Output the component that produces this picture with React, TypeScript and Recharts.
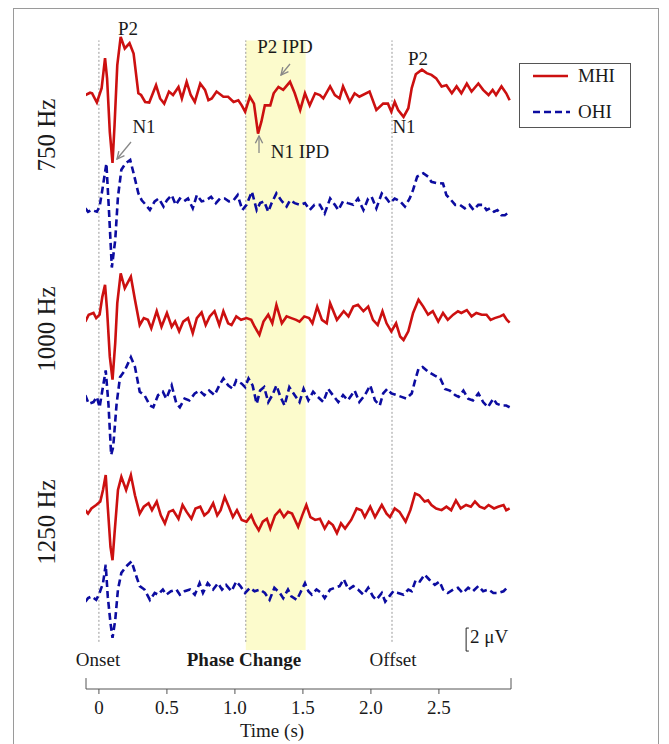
import React from 'react'
import { LineChart, Line, XAxis, YAxis, ReferenceLine, ReferenceArea } from 'recharts'

const FONT = "'Liberation Serif', 'Times New Roman', serif"

const timeTicks = [0, 0.5, 1.0, 1.5, 2.0, 2.5]
const tickLabels = ['0', '0.5', '1.0', '1.5', '2.0', '2.5']
const eventTimes = [0, 1.08, 2.155] // onset, phase change, offset
const eventLabels = ['Onset', 'Phase Change', 'Offset']
const ipdWindow = [1.08, 1.52]
const freqLabels = ['750 Hz', '1000 Hz', '1250 Hz']

// [time (s), amplitude (µV)]
const mhi750: [number, number][] = [
  [-0.1, 0], [-0.065, 0.2], [-0.05, 0.15], [-0.015, -0.65], [0.02, 0.6], [0.045, 3.2], [0.06, 1.45],
  [0.08, -3.2], [0.1, -5.9], [0.115, -2.6], [0.135, 2.6], [0.16, 5.05], [0.19, 4.05], [0.225, 4.5],
  [0.255, 3.6], [0.29, 0.15], [0.31, 0], [0.34, -0.6], [0.37, -0.65], [0.42, 0.85], [0.45, -0.3],
  [0.48, -0.75], [0.515, 0.3], [0.545, 0], [0.585, 0.7], [0.61, -0.3], [0.645, 1.15], [0.675, 0],
  [0.705, -0.6], [0.745, 1.0], [0.78, 0.45], [0.805, -0.45], [0.83, -0.3], [0.865, 0.3], [0.915, -0.15],
  [0.95, -0.15], [0.99, -0.6], [1.025, -0.45], [1.05, -0.9], [1.075, -1.45], [1.11, -0.15], [1.14, -0.75],
  [1.17, -3.35], [1.195, -2.3], [1.22, -0.9], [1.26, -0.9], [1.285, 0.15], [1.32, 0.7], [1.355, 0.45],
  [1.405, 1.15], [1.44, 0.15], [1.48, -1.3], [1.515, 0.15], [1.55, -0.9], [1.59, 0.15], [1.625, 0],
  [1.65, -0.3], [1.7, 0.75], [1.735, 0], [1.77, -0.3], [1.795, 0.75], [1.845, -0.6], [1.88, 0.15],
  [1.915, -0.15], [1.99, 0.3], [2.04, -1.3], [2.09, -0.75], [2.125, -0.75], [2.15, -1.45], [2.175, -0.6],
  [2.2, -1.3], [2.24, -1.9], [2.275, -1.15], [2.3, 0.6], [2.33, 1.8], [2.375, 2.2], [2.41, 1.9],
  [2.445, 1.75], [2.48, 1.45], [2.52, 0.75], [2.555, 0.85], [2.595, 0.15], [2.63, 0.75], [2.665, 0.15],
  [2.705, 1.0], [2.74, 0.3], [2.79, 1.0], [2.825, 0.45], [2.865, 0], [2.895, 0.45], [2.92, 0],
  [2.96, 0.75], [2.995, 0.15], [3.02, -0.45],
]

const ohi750: [number, number][] = [
  [-0.1, 0.15], [-0.08, -0.15], [-0.055, 0], [-0.015, -0.15], [0.005, 0.3], [0.025, 1.75], [0.055, 4.05],
  [0.075, -0.3], [0.095, -5.0], [0.12, -2.6], [0.14, 1.15], [0.165, 3.5], [0.195, 4.05], [0.23, 4.35],
  [0.255, 3.2], [0.29, 1.45], [0.315, 0.85], [0.345, 0.45], [0.375, 0], [0.41, 0.75], [0.44, 1.0],
  [0.475, 0.3], [0.5, 0.85], [0.535, 1.3], [0.565, 0.45], [0.595, 1.0], [0.625, 0.75], [0.655, 1.0],
  [0.69, 0.15], [0.72, 1.3], [0.755, 0.75], [0.79, 0.85], [0.825, 1.15], [0.86, 0.6], [0.89, 1.0],
  [0.925, 1.0], [0.955, 0.75], [0.99, 0.85], [1.02, 1.3], [1.055, 0], [1.085, 0.45], [1.125, 1.6],
  [1.16, 0], [1.185, 0.6], [1.215, 0.75], [1.245, -0.15], [1.27, 0.6], [1.305, 1.45], [1.34, 0.85],
  [1.38, 0.3], [1.405, 0.85], [1.44, 0.6], [1.48, 0.45], [1.515, 0.6], [1.55, 0], [1.585, 0.45],
  [1.625, 0.45], [1.66, -0.3], [1.7, 1.0], [1.735, 0.45], [1.76, 0], [1.795, 0.75], [1.83, 0.6],
  [1.87, 0.45], [1.905, 1.0], [1.945, 0], [1.98, 1.0], [2.005, 1.15], [2.04, 0.15], [2.08, 1.45],
  [2.115, 1.0], [2.14, 0.6], [2.175, 1.0], [2.215, 0.75], [2.25, 0.3], [2.285, 1.0], [2.31, 1.75],
  [2.34, 2.9], [2.385, 3.2], [2.42, 2.9], [2.445, 2.45], [2.48, 2.35], [2.53, 2.3], [2.555, 1.3],
  [2.58, 1.0], [2.62, 0.45], [2.655, 0.45], [2.69, 0.15], [2.725, 0.45], [2.755, 0], [2.79, 0.45],
  [2.825, 0.45], [2.85, 0], [2.875, 0.15], [2.905, -0.15], [2.93, 0], [2.96, -0.45], [2.985, -0.45],
  [3.02, -0.15],
]

const mhi1000: [number, number][] = [
  [-0.1, -0.15], [-0.075, 0.45], [-0.04, 0.6], [-0.02, 0.15], [0.005, 0.45], [0.025, 2.0], [0.045, 3.05],
  [0.06, 0.85], [0.08, -3.2], [0.1, -5.2], [0.12, -2.0], [0.135, 1.45], [0.16, 4.05], [0.19, 2.75],
  [0.235, 3.75], [0.265, 1.75], [0.3, -0.45], [0.33, 0.15], [0.36, 0], [0.385, -0.75], [0.425, 0.75],
  [0.46, -0.6], [0.5, 0.6], [0.535, -0.6], [0.56, -0.15], [0.59, -1.0], [0.62, -0.15], [0.655, 0.15],
  [0.69, -1.15], [0.72, 0.15], [0.755, 0.65], [0.785, -0.45], [0.815, 0.3], [0.85, 0.75], [0.885, -0.45],
  [0.915, 0.75], [0.95, -0.3], [0.975, -0.45], [1.01, 0.3], [1.045, 0], [1.085, 0.15], [1.12, 0],
  [1.145, -0.6], [1.18, -1.3], [1.21, -0.15], [1.245, 0.45], [1.275, -0.3], [1.305, 1.3], [1.345, -0.3],
  [1.38, 0.3], [1.415, 0.15], [1.45, 0], [1.475, -0.15], [1.51, 0.3], [1.545, 0.15], [1.57, -0.3],
  [1.605, 1.15], [1.64, 0], [1.675, -0.3], [1.7, 1.45], [1.75, 0], [1.8, 0.75], [1.835, 0.3],
  [1.87, 1.15], [1.905, 1.3], [1.945, 0.75], [1.98, 1.15], [2.015, 0], [2.05, -0.45], [2.085, 0.75],
  [2.115, -0.3], [2.15, -1.0], [2.185, -0.3], [2.215, -1.45], [2.24, -1.75], [2.275, -1.0], [2.31, 0.6],
  [2.35, 1.75], [2.385, 1.15], [2.42, 0.45], [2.455, 0.75], [2.495, -0.15], [2.53, 0.6], [2.565, 0],
  [2.605, 0.45], [2.64, 0.75], [2.665, 0.6], [2.705, 0.85], [2.74, 0.3], [2.775, 0.6], [2.815, 0.45],
  [2.85, 0.45], [2.88, 0], [2.91, 0.15], [2.95, 0.3], [2.975, 0.45], [3.0, 0], [3.02, -0.25],
]

const ohi1000: [number, number][] = [
  [-0.1, 0.45], [-0.075, -0.3], [-0.04, -0.15], [-0.015, 0.3], [0.005, -0.6], [0.025, 0.85], [0.05, 2.6],
  [0.07, -0.3], [0.09, -4.75], [0.105, -4.05], [0.13, -0.3], [0.155, 2.0], [0.19, 2.6], [0.235, 3.75],
  [0.265, 2.9], [0.3, 0.75], [0.335, 0.45], [0.375, -0.45], [0.4, -0.6], [0.435, 0.45], [0.47, 0.75],
  [0.495, 0.15], [0.535, 1.3], [0.57, -0.3], [0.595, -0.6], [0.63, 0.15], [0.665, 0], [0.705, 0.6],
  [0.74, 0.85], [0.775, 0.45], [0.81, 0.85], [0.85, 0.45], [0.885, 1.3], [0.915, 1.9], [0.95, 1.3],
  [0.985, 1.0], [1.01, 1.75], [1.05, 1.45], [1.075, 1.15], [1.1, 1.9], [1.13, 1.3], [1.16, -0.3],
  [1.185, 0.85], [1.215, 1.15], [1.245, -0.15], [1.275, 0.45], [1.305, 1.3], [1.335, 0.3], [1.365, -0.45],
  [1.4, 1.15], [1.44, 0.45], [1.475, -0.15], [1.505, 1.0], [1.54, 0], [1.575, 0.75], [1.61, 0.3],
  [1.65, -0.15], [1.685, 1.0], [1.72, 0.45], [1.76, -0.15], [1.795, 0.45], [1.83, 0], [1.88, 0.85],
  [1.915, -0.15], [1.955, 0.45], [1.995, 1.3], [2.03, 0], [2.065, -0.45], [2.09, 0.6], [2.12, 1.0],
  [2.15, 0.6], [2.19, 0.45], [2.225, 0.3], [2.26, 0.15], [2.3, 0.6], [2.325, 1.75], [2.35, 2.75],
  [2.38, 2.9], [2.425, 2.45], [2.47, 2.15], [2.51, 1.9], [2.545, 1.0], [2.58, 0.85], [2.62, 0.45],
  [2.645, 0.3], [2.68, 0.85], [2.715, 0.15], [2.75, 0], [2.79, 0.6], [2.825, -0.15], [2.86, -0.6],
  [2.9, 0.15], [2.925, -0.3], [2.96, -0.45], [2.995, -0.45], [3.02, -0.6],
]

const mhi1250: [number, number][] = [
  [-0.1, 0], [-0.08, -0.3], [-0.055, 0.15], [-0.02, 0.45], [0.01, 0.75], [0.03, 1.75], [0.05, 3.05],
  [0.065, 0.3], [0.085, -3.2], [0.1, -4.35], [0.115, -2.0], [0.14, 1.75], [0.165, 2.9], [0.2, 1.75],
  [0.235, 3.05], [0.265, 1.3], [0.3, -0.3], [0.33, 0.3], [0.365, 0.6], [0.39, 0], [0.425, 0.75],
  [0.455, -0.45], [0.485, -1.15], [0.515, -0.15], [0.545, 0], [0.585, -0.75], [0.615, 0.45], [0.645, -0.15],
  [0.68, -0.75], [0.71, 0.15], [0.745, 0.3], [0.775, -0.45], [0.805, -0.15], [0.84, 0.6], [0.87, -0.45],
  [0.895, 0], [0.925, 1.15], [0.955, 0.3], [0.985, -0.6], [1.015, 0], [1.05, -0.85], [1.085, -1.0],
  [1.12, -0.45], [1.145, -1.15], [1.175, -1.75], [1.205, -1.0], [1.235, -0.75], [1.26, -1.6], [1.295, -0.45],
  [1.33, 0], [1.36, -0.6], [1.39, -0.15], [1.42, -0.3], [1.465, -1.45], [1.495, -0.45], [1.525, 0.45],
  [1.555, -0.6], [1.59, -0.85], [1.625, -0.75], [1.66, -1.6], [1.69, -1.0], [1.72, -1.3], [1.75, -2.0],
  [1.78, -1.15], [1.81, -1.6], [1.855, -0.85], [1.895, 0.15], [1.93, 0], [1.955, -0.6], [1.995, 0.3],
  [2.03, -0.6], [2.08, 0.45], [2.115, -0.3], [2.14, -0.6], [2.175, 0.15], [2.21, -0.15], [2.255, -1.0],
  [2.29, 0], [2.325, 1.45], [2.355, 1.3], [2.395, 0.75], [2.42, 0.85], [2.445, 0.45], [2.48, 0.15],
  [2.52, 0], [2.555, 0.3], [2.59, 0], [2.625, 0.85], [2.66, 0.15], [2.7, 0.45], [2.735, 0.3],
  [2.765, 0.75], [2.8, 0.3], [2.835, 0.15], [2.865, 0.45], [2.905, 0.15], [2.935, 0.3], [2.975, 0.45],
  [2.995, 0], [3.02, 0.15],
]

const ohi1250: [number, number][] = [
  [-0.1, -0.6], [-0.08, -0.3], [-0.055, -0.15], [-0.02, -0.45], [0.0, 0], [0.03, 1.0], [0.05, 2.6],
  [0.065, -0.15], [0.085, -2.45], [0.1, -3.75], [0.12, -2.2], [0.14, 0.45], [0.165, 1.9], [0.2, 2.45],
  [0.24, 2.9], [0.275, 1.6], [0.3, 0.75], [0.335, 0.45], [0.375, -0.45], [0.41, 0.15], [0.435, 0],
  [0.47, 0.45], [0.495, 0], [0.53, 0.3], [0.57, 0.45], [0.595, 0], [0.63, 0.3], [0.67, 0.45],
  [0.705, 0], [0.74, 1.0], [0.765, 0.15], [0.8, 1.0], [0.84, 0.45], [0.875, 1.0], [0.905, 0.45],
  [0.935, 0.85], [0.975, 0.3], [1.01, 1.15], [1.04, 0.75], [1.075, 0.15], [1.11, 0.6], [1.145, 0.3],
  [1.185, 0.45], [1.22, 0.15], [1.255, -0.45], [1.29, 0.6], [1.33, 0.15], [1.355, -0.3], [1.39, 0.45],
  [1.415, -0.15], [1.455, -0.45], [1.48, 0.15], [1.515, 1.0], [1.54, 0.3], [1.565, 0], [1.6, 0.45],
  [1.635, 0.15], [1.66, -0.3], [1.7, 0.45], [1.735, 0.6], [1.77, 0.75], [1.8, 1.35], [1.835, 0.45],
  [1.87, 0.75], [1.905, 0.45], [1.945, 0], [1.98, 0.6], [2.015, -0.15], [2.04, -0.45], [2.08, 0.15],
  [2.105, -0.6], [2.135, -0.15], [2.165, 0.3], [2.2, 0.15], [2.24, 0], [2.275, 0.45], [2.3, 0.3],
  [2.33, 1.3], [2.36, 1.15], [2.395, 1.75], [2.43, 1.3], [2.47, 0.85], [2.505, 1.15], [2.53, 0.45],
  [2.565, 0.15], [2.605, 0.45], [2.64, 0.6], [2.675, 0.15], [2.715, 0.6], [2.75, 0.3], [2.79, 0.75],
  [2.825, 0.3], [2.865, 0.45], [2.9, 0.15], [2.935, 0.15], [2.975, 0.3], [3.0, 0.6],
]

const RED = '#CC1010'
const BLUE = '#0C0CA0'

// vertical stacking of the six traces (µV offsets on a shared scale)
const traces = [
  { id: 'mhi750', data: mhi750, base: 51.65, color: RED, dash: undefined },
  { id: 'ohi750', data: ohi750, base: 41.65, color: BLUE, dash: '7 4' },
  { id: 'mhi1000', data: mhi1000, base: 32.1, color: RED, dash: undefined },
  { id: 'ohi1000', data: ohi1000, base: 25.1, color: BLUE, dash: '7 4' },
  { id: 'mhi1250', data: mhi1250, base: 15.55, color: RED, dash: undefined },
  { id: 'ohi1250', data: ohi1250, base: 8.2, color: BLUE, dash: '7 4' },
]

const X_MIN = -0.095
const X_MAX = 3.03

const txt = { fontFamily: FONT, fill: '#1a1a1a' }

export default function App() {
  return (
    <div style={{ position: 'absolute', left: 0, top: 0, width: 669, height: 744, overflow: 'hidden', background: '#fff', fontFamily: FONT }}>
      <div style={{ position: 'absolute', left: 13, top: 8, width: 644, height: 780, border: '1px solid #9a9a9a' }} />
      <div style={{ position: 'absolute', left: 0, top: 0 }}>
        <LineChart width={669} height={744} margin={{ top: 22, right: 158, bottom: 25, left: 86 }}>
          <XAxis
            dataKey="t"
            type="number"
            domain={[X_MIN, X_MAX]}
            allowDataOverflow
            ticks={timeTicks}
            tickFormatter={(v: number) => tickLabels[timeTicks.indexOf(v)]}
            stroke="#555"
            tick={{ fontSize: 19, fill: '#1a1a1a', fontFamily: FONT }}
            tickSize={5}
            tickMargin={7}
            height={30}
          />
          <YAxis hide width={0} type="number" domain={[0, 58]} allowDataOverflow />
          <ReferenceArea x1={ipdWindow[0]} x2={ipdWindow[1]} y1={3.4} y2={56.4} fill="#FCFBCC" fillOpacity={1} stroke="none" />
          {eventTimes.map(e => (
            <ReferenceLine key={e} segment={[{ x: e, y: 4.1 }, { x: e, y: 56.4 }]} stroke="#999" strokeDasharray="2 2" />
          ))}
          <ReferenceLine segment={[{ x: X_MIN, y: 0 }, { x: X_MIN, y: 0.95 }]} stroke="#555" ifOverflow="visible" />
          <ReferenceLine segment={[{ x: X_MAX, y: 0 }, { x: X_MAX, y: 0.95 }]} stroke="#555" ifOverflow="visible" />
          {/* 2 µV scale bar */}
          <ReferenceLine segment={[{ x: 2.7, y: 3.3 }, { x: 2.7, y: 5.3 }]} stroke="#222" />
          <ReferenceLine segment={[{ x: 2.7, y: 5.3 }, { x: 2.72, y: 5.3 }]} stroke="#222" />
          <ReferenceLine segment={[{ x: 2.7, y: 3.3 }, { x: 2.72, y: 3.3 }]} stroke="#222" />
          {traces.map(tr => (
            <Line
              key={tr.id}
              data={tr.data.map(([t, v]) => ({ t, v: v + tr.base }))}
              dataKey="v"
              type="linear"
              stroke={tr.color}
              strokeWidth={2.6}
              strokeDasharray={tr.dash}
              dot={false}
              activeDot={false}
              isAnimationActive={false}
            />
          ))}
        </LineChart>
      </div>
      <svg width={669} height={744} style={{ position: 'absolute', left: 0, top: 0, pointerEvents: 'none' }}>
        <defs>
          <marker id="ah" viewBox="0 0 10 10" refX="9" refY="5" markerWidth="7" markerHeight="7" orient="auto">
            <path d="M1,1 L9,5 L1,9" fill="none" stroke="#888" strokeWidth="1.5" />
          </marker>
        </defs>
        <text x={128} y={35} fontSize={19} textAnchor="middle" {...txt}>P2</text>
        <text x={144} y={133} fontSize={19} textAnchor="middle" {...txt}>N1</text>
        <line x1={131} y1={142} x2={117} y2={159} stroke="#888" strokeWidth={1.3} markerEnd="url(#ah)" />
        <text x={285} y={53} fontSize={19} textAnchor="middle" {...txt}>P2 IPD</text>
        <line x1={290} y1={64} x2={281} y2={75} stroke="#888" strokeWidth={1.3} markerEnd="url(#ah)" />
        <text x={300} y={158} fontSize={19} textAnchor="middle" {...txt}>N1 IPD</text>
        <line x1={259} y1={153} x2={259} y2={136} stroke="#888" strokeWidth={1.3} markerEnd="url(#ah)" />
        <text x={418} y={65} fontSize={19} textAnchor="middle" {...txt}>P2</text>
        <text x={404} y={133} fontSize={19} textAnchor="middle" {...txt}>N1</text>

        {freqLabels.map((f, i) => {
          const cy = [135, 329, 522][i]
          return (
            <text key={f} x={0} y={0} fontSize={25} textAnchor="middle" transform={`translate(55 ${cy}) rotate(-90)`} {...txt}>
              {f}
            </text>
          )
        })}

        {eventLabels.map((l, i) => (
          <text key={l} x={[98, 244, 393][i]} y={666} fontSize={19} textAnchor="middle" fontWeight={i === 1 ? 'bold' : 'normal'} {...txt}>
            {l}
          </text>
        ))}
        <text x={470} y={643} fontSize={19} {...txt}>2 μV</text>
        <text x={272} y={737} fontSize={19} textAnchor="middle" {...txt}>Time (s)</text>
      </svg>
      <div style={{ position: 'absolute', left: 519, top: 63, width: 110, height: 63, border: '1px solid #555', background: '#fff' }}>
        <svg width={110} height={63} style={{ display: 'block' }}>
          <line x1={13} y1={12} x2={48} y2={12} stroke={RED} strokeWidth={2.6} />
          <text x={58} y={18} fontSize={19} {...txt}>MHI</text>
          <line x1={13} y1={48} x2={50} y2={48} stroke={BLUE} strokeWidth={2.6} strokeDasharray="7 4" />
          <text x={58} y={54} fontSize={19} {...txt}>OHI</text>
        </svg>
      </div>
    </div>
  )
}
